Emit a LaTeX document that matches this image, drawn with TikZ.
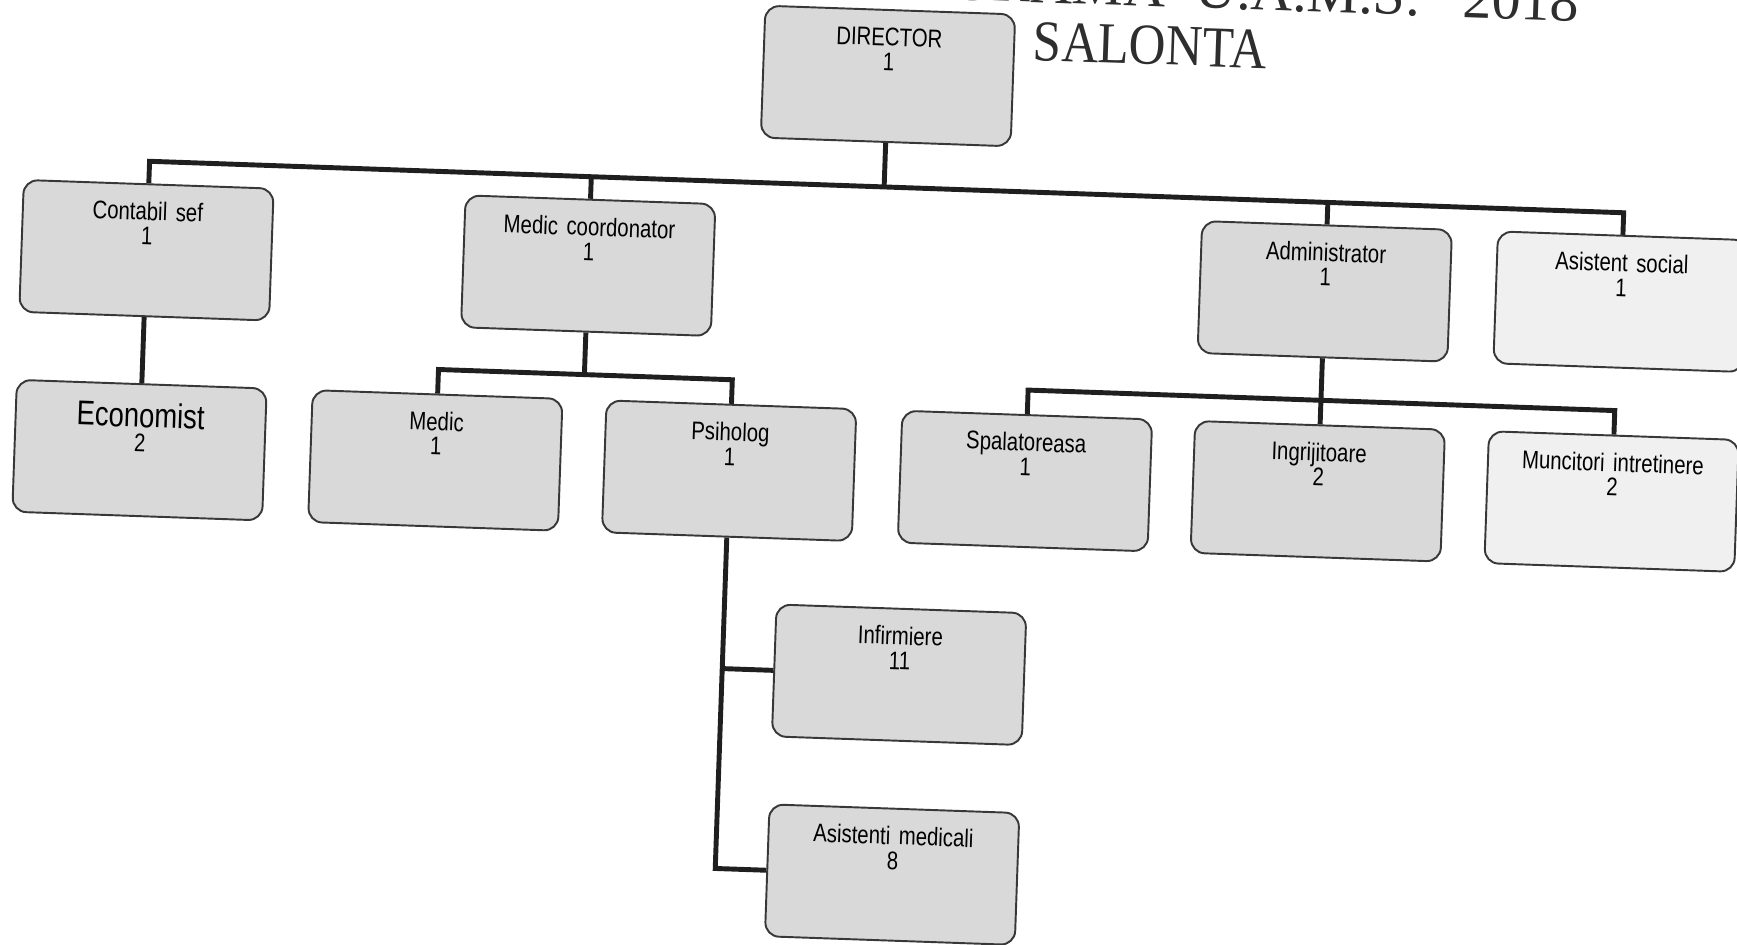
\documentclass[tikz,border=0pt]{standalone}
\usepackage{fontspec}
\usepackage{tikz}
\newfontfamily\boxfont[FakeStretch=0.8]{Liberation Sans}
\newfontfamily\titlefont[FakeStretch=0.88]{Liberation Serif}
\newfontfamily\titlewide{Liberation Serif}
\colorlet{boxfill}{gray!30}
\colorlet{boxpale}{gray!12}
\colorlet{boxline}{black!78}
\colorlet{linkline}{black!88}

\tikzset{
    unit/.style={draw=boxline, line width=1.1pt, fill=boxfill, rounded corners=0.28cm,
        text width=4.8cm, align=center, inner xsep=0.1cm, inner ysep=0.04cm,
        text height=0.68cm, text depth=1.88cm,
        font=\boxfont\fontsize{14.5}{14}\selectfont},
    link/.style={draw=linkline, line width=2.8pt}
}

\begin{document}
\begin{tikzpicture}[x=0.02cm, y=-0.02cm]
    \useasboundingbox (0,0) rectangle (1737,944);
    \clip (0,0) rectangle (1737,944);
    \begin{scope}[rotate around={-2:(888,76)}, transform shape]
        % title, its left part lies under the director box
        \node[font=\titlefont\fontsize{33}{33}\selectfont, text=black!82, align=center,
            anchor=south, inner sep=0pt] (title) at (1149,56)
            {{\titlewide ORGANIGRAMA\hspace{0.5em}U.A.M.S.\hspace{0.75em}2018}\\SALONTA};

        \node[unit] (dir) at (888,76) {DIRECTOR\\1};

        \node[unit] (contabil) at (153,276) {Contabil sef\\1};
        \node[unit] (medcoord) at (595,276) {Medic coordonator\\1};
        \node[unit] (admin) at (1332,276) {Administrator\\1};
        \node[unit, fill=boxpale] (asocial) at (1628,276) {Asistent social\\1};

        \node[unit, text height=0.82cm, text depth=1.74cm] (econ) at (153,476)
            {{\fontsize{19.5}{19}\selectfont Economist}\\2};
        \node[unit] (medic) at (449,476) {Medic\\1};
        \node[unit] (psih) at (743,476) {Psiholog\\1};
        \node[unit] (spal) at (1039,476) {Spalatoreasa\\1};
        \node[unit] (ingri) at (1332,476) {Ingrijitoare\\2};
        \node[unit, fill=boxpale] (munc) at (1626,476) {Muncitori intretinere\\2};

        \node[unit] (inf) at (920,674) {Infirmiere\\11};
        \node[unit] (asist) at (920,874) {Asistenti medicali\\8};

        % bus lines
        \coordinate (busL) at (153,187);
        \coordinate (busR) at (1628,187);
        \coordinate (mbusL) at (449,385);
        \coordinate (mbusR) at (743,385);
        \coordinate (abusL) at (1039,385);
        \coordinate (abusR) at (1626,385);
        \coordinate (pcorner) at (743,874);

        \draw[link] (dir.south) -- ++(0,45);
        \draw[link] (contabil.north) -- (busL) -- (busR) -- (asocial.north);
        \foreach \n in {medcoord,admin}
        {
            \draw[link] (\n.north) -- ++(0,-23);
        }
        \draw[link] (contabil.south) -- (econ.north);

        \draw[link] (medcoord.south) -- ++(0,43);
        \draw[link] (medic.north) -- (mbusL) -- (mbusR) -- (psih.north);

        \draw[link] (admin.south) -- (ingri.north);
        \draw[link] (spal.north) -- (abusL) -- (abusR) -- (munc.north);

        \draw[link] (psih.south) -- (pcorner) -- (asist.west);
        \draw[link] (inf.west) -- ++(-52,0);
    \end{scope}
\end{tikzpicture}
\end{document}
